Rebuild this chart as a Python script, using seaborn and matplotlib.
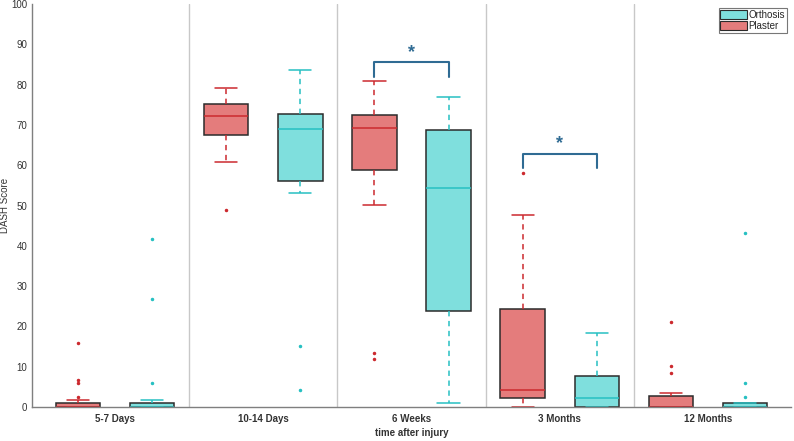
import matplotlib
matplotlib.use("Agg")
import matplotlib.pyplot as plt
import matplotlib.patches as mpatches
import seaborn as sns
import pandas as pd

# time points and groups
times = ['5-7 Days', '10-14 Days', '6 Weeks', '3 Months', '12 Months']
groups = ['Plaster', 'Orthosis']

# DASH scores per time point, reconstructed so the boxes match the figure
plaster = [
    [0] * 15 + [0.9, 1.7, 2.5, 5.9, 6.6, 16.0],
    [49.0, 60.9, 67.6, 67.6, 72.2, 75.1, 75.1, 79.1, 79.1],
    [11.8, 13.5, 50.1, 58.8, 58.8, 58.8, 69.3, 72.5, 72.5, 72.5, 81.0, 81.0, 81.0],
    [0, 2.2, 2.2, 4.3, 4.3, 24.3, 24.3, 47.6, 58.1],
    [0] * 12 + [2.8, 3.4, 8.4, 10.2, 21.1],
]
orthosis = [
    [0] * 12 + [0.9, 1.7, 5.9, 26.7, 41.8],
    [4.3, 15.1, 53.1, 56.2, 56.2, 56.2, 68.9, 72.6, 72.6, 72.6, 83.5, 83.5, 83.5],
    [0.9, 23.9, 54.3, 68.8, 76.8],
    [0, 0, 2.2, 7.6, 18.4],
    [0] * 9 + [0.9, 2.6, 5.9, 43.3],
]

# significance brackets: (time index, bracket top, leg bottom)
sig_times = [2, 3]
sig_tops = [85.5, 62.9]
sig_legs = [81.8, 59.2]

rows = []
for t, vals in zip(times, plaster):
    rows += [(t, 'Plaster', v) for v in vals]
for t, vals in zip(times, orthosis):
    rows += [(t, 'Orthosis', v) for v in vals]
df = pd.DataFrame(rows, columns=['time', 'group', 'score'])

face = {'Plaster': '#E47C7C', 'Orthosis': '#7FDFDD'}
line = {'Plaster': '#CC2A2F', 'Orthosis': '#27C0C2'}
edge = '#2b2b2b'
bracket_col = '#2F6B93'

sns.set_style('white')
plt.rcParams['font.family'] = ['Liberation Sans', 'DejaVu Sans']

fig = plt.figure(figsize=(7.94, 4.41), dpi=100)
ax = fig.add_axes([32 / 794, 34 / 441, 759 / 794, 403 / 441])

for g in groups:
    sns.boxplot(data=df[df.group == g], x='time', y='score', hue='group',
                order=times, hue_order=groups, palette=face, saturation=1,
                width=1.0, gap=0.4, dodge=True, legend=False, ax=ax,
                linewidth=1.1,
                boxprops=dict(edgecolor=edge, linewidth=1.1),
                medianprops=dict(color=line[g], linewidth=1.1),
                whiskerprops=dict(color=line[g], linestyle=(0, (3.5, 3)), linewidth=1.1),
                capprops=dict(color=line[g], linewidth=1.1),
                flierprops=dict(marker='o', markersize=1.5,
                                markerfacecolor=line[g], markeredgecolor=line[g]))

# separators between time points
for i in range(len(times) - 1):
    ax.plot([i + 0.5, i + 0.5], [0, 100], color='#c8c8c8', lw=1.0, zorder=0)

# significance brackets
for t, top, leg in zip(sig_times, sig_tops, sig_legs):
    x0, x1 = t - 0.25, t + 0.25
    ax.plot([x0, x0, x1, x1], [leg, top, top, leg], color=bracket_col, lw=1.5)
    ax.text(t, top + 0.3, '*', ha='center', va='bottom', fontsize=13,
            fontweight='bold', color=bracket_col)

ax.set_xlim(-0.56, 4.56)
ax.set_ylim(0, 100)
ax.set_yticks(range(0, 101, 10))
ax.set_xlabel('time after injury', fontsize=7, fontweight='bold', color='#333333',
              labelpad=3)
ax.set_ylabel('DASH Score', fontsize=7, color='#333333')
ax.yaxis.set_label_coords(-22 / 759, 0.5)
ax.tick_params(axis='both', direction='in', length=6, width=1, color='#7f7f7f',
               labelsize=7, labelcolor='#333333')
ax.tick_params(axis='x', pad=5)
for lab in ax.get_xticklabels():
    lab.set_fontweight('bold')
for s in ['top', 'right']:
    ax.spines[s].set_visible(False)
for s in ['left', 'bottom']:
    ax.spines[s].set_color('#7f7f7f')
    ax.spines[s].set_linewidth(1.0)

handles = [mpatches.Patch(facecolor=face['Orthosis'], edgecolor=edge, lw=0.8, label='Orthosis'),
           mpatches.Patch(facecolor=face['Plaster'], edgecolor=edge, lw=0.8, label='Plaster')]
leg = ax.legend(handles=handles, loc='upper right', fontsize=7, fancybox=False,
                frameon=True, borderpad=0.2, handlelength=2.7, handleheight=1.1,
                handletextpad=0.2, labelspacing=0.1, borderaxespad=0.4)
leg.get_frame().set_edgecolor('#555555')
leg.get_frame().set_linewidth(0.8)

fig.savefig('out.png', dpi=100)
